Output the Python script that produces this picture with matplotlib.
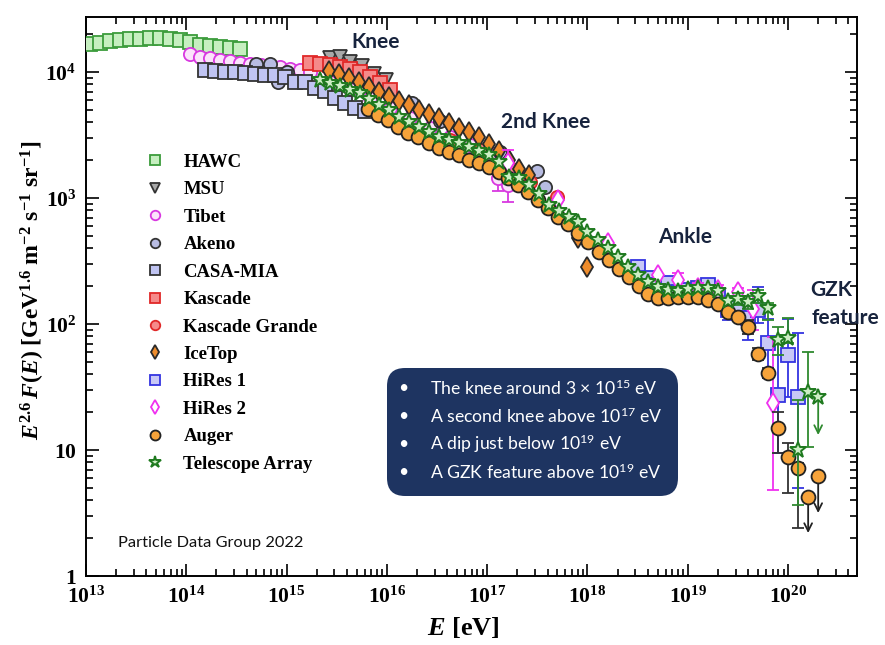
import numpy as np
import matplotlib
matplotlib.use('Agg')
import matplotlib.pyplot as plt
from matplotlib.ticker import LogLocator, NullFormatter, FixedLocator, FixedFormatter
from matplotlib.patches import FancyBboxPatch
from matplotlib.transforms import IdentityTransform

plt.rcParams['mathtext.fontset'] = 'custom'
plt.rcParams['mathtext.rm'] = 'Liberation Serif:bold'
plt.rcParams['mathtext.it'] = 'Liberation Serif:italic:bold'
plt.rcParams['mathtext.bf'] = 'Liberation Serif:bold'
plt.rcParams['mathtext.sf'] = 'Lato'

# ---------------- data (log10 E [eV], log10 E^2.6 F) ----------------
hawc_logE = [13.04, 13.14, 13.24, 13.34, 13.44, 13.54, 13.64, 13.74, 13.84, 13.94, 14.04, 14.14, 14.24, 14.34, 14.44, 14.54]
hawc_logF = [4.222, 4.232, 4.243, 4.254, 4.260, 4.264, 4.267, 4.267, 4.264, 4.254, 4.236, 4.214, 4.209, 4.201, 4.193, 4.180]

msu_logE = [15.43, 15.53, 15.63, 15.75, 15.87, 15.99]
msu_logF = [4.111, 4.119, 4.079, 4.048, 3.984, 3.937]

tibet_logE = [14.04, 14.14, 14.24, 14.34, 14.44, 14.54, 14.64, 14.74, 14.83, 14.93, 15.03, 15.13, 15.23,
              15.43, 15.63, 15.83, 16.03, 16.23, 16.43, 16.63, 16.83, 17.03, 17.11, 17.21]
tibet_logF = [4.143, 4.123, 4.111, 4.099, 4.087, 4.075, 4.063, 4.056, 4.048, 4.040, 4.028, 4.016, 4.004,
              3.921, 3.865, 3.794, 3.714, 3.635, 3.556, 3.484, 3.421, 3.357, 3.159, 3.103]
tibet_err_logE = [17.11, 17.21]
tibet_err_logF = [3.159, 3.103]
tibet_err_lo = [3.056, 2.968]
tibet_err_hi = [3.25, 3.20]

akeno_logE = [14.69, 14.83, 14.91, 15.00, 16.25, 16.53, 17.13, 17.50, 17.58]
akeno_logF = [4.063, 4.063, 3.921, 4.000, 3.754, 3.611, 3.365, 3.214, 3.087]

casa_logE = [14.19, 14.29, 14.39, 14.49, 14.59, 14.68, 14.78, 14.88, 14.98, 15.08, 15.18, 15.28, 15.38, 15.48, 15.58, 15.68, 15.78]
casa_logF = [4.020, 4.008, 4.002, 3.998, 3.996, 3.986, 3.978, 3.978, 3.963, 3.923, 3.921, 3.873, 3.849, 3.798, 3.752, 3.712, 3.694]

kascade_logE = [15.23, 15.33, 15.43, 15.53, 15.63, 15.73, 15.83, 15.93, 16.03]
kascade_logF = [4.071, 4.067, 4.056, 4.040, 4.024, 4.000, 3.960, 3.913, 3.857]

kg_logE = [16.63, 16.93, 17.23, 17.43, 17.70]
kg_logF = [3.460, 3.381, 3.238, 3.127, 3.008]

icetop_logE = [15.42, 15.52, 15.62, 15.72, 15.82, 15.92, 16.02, 16.12, 16.22, 16.32, 16.42, 16.52, 16.62, 16.72,
               16.82, 16.92, 17.02, 17.12, 17.22, 17.32, 17.42, 17.91, 18.00]
icetop_logF = [4.008, 3.984, 3.952, 3.921, 3.881, 3.841, 3.802, 3.770, 3.738, 3.698, 3.667, 3.635, 3.595, 3.556,
               3.524, 3.484, 3.429, 3.373, 3.302, 3.230, 3.183, 2.683, 2.452]

hires1_logE = [18.50, 18.60, 18.70, 18.80, 18.90, 19.00, 19.10, 19.20, 19.30, 19.40, 19.50, 19.60, 19.70, 19.80, 19.90, 20.00, 20.10]
hires1_logF = [2.452, 2.365, 2.310, 2.325, 2.254, 2.270, 2.286, 2.310, 2.214, 2.111, 2.127, 2.048, 2.111, 1.849, 1.437, 1.754, 1.421]
hires1_err_logE = [19.40, 19.50, 19.60, 19.70, 19.80, 19.90, 20.00, 20.10]
hires1_err_logF = [2.111, 2.127, 2.048, 2.111, 1.849, 1.437, 1.754, 1.421]
hires1_err_lo = [2.032, 2.048, 1.873, 2.008, 1.571, 0.976, 1.421, 0.698]
hires1_err_hi = [2.190, 2.190, 2.087, 2.294, 2.040, 1.889, 2.040, 1.929]

hires2_logE = [17.21, 17.71, 18.20, 18.70, 18.90, 19.10, 19.30, 19.50, 19.65, 19.85]
hires2_logF = [3.278, 2.984, 2.643, 2.389, 2.349, 2.286, 2.270, 2.254, 2.119, 1.373]
hires2_err_logE = [17.21, 18.90, 19.10, 19.30, 19.50, 19.65, 19.85]
hires2_err_logF = [3.278, 2.349, 2.286, 2.270, 2.254, 2.119, 1.373]
hires2_err_lo = [3.200, 2.290, 2.250, 2.220, 2.200, 1.952, 0.683]
hires2_err_hi = [3.380, 2.405, 2.325, 2.310, 2.286, 2.270, 1.897]

auger_logE = [15.81, 15.91, 16.01, 16.11, 16.21, 16.31, 16.42, 16.52, 16.62, 16.72, 16.82, 16.92, 17.02, 17.12,
              17.21, 17.31, 17.41, 17.51, 17.61, 17.71, 17.81, 17.91, 18.01, 18.11, 18.21, 18.31, 18.41, 18.51,
              18.60, 18.70, 18.80, 18.90, 19.00, 19.10, 19.20, 19.30, 19.40, 19.50, 19.60, 19.70, 19.80, 19.90,
              20.00, 20.10, 20.20, 20.30]
auger_logF = [3.706, 3.659, 3.619, 3.563, 3.516, 3.484, 3.437, 3.397, 3.365, 3.341, 3.302, 3.278, 3.246, 3.206,
              3.159, 3.103, 3.048, 2.984, 2.921, 2.849, 2.794, 2.722, 2.651, 2.571, 2.508, 2.437, 2.373, 2.302,
              2.238, 2.206, 2.206, 2.214, 2.214, 2.214, 2.190, 2.159, 2.095, 2.056, 1.976, 1.762, 1.611, 1.175,
              0.944, 0.857, 0.627, 0.794]
auger_err_logE = [19.60, 19.70, 19.80, 19.90, 20.00, 20.10]
auger_err_logF = [1.976, 1.762, 1.611, 1.175, 0.944, 0.857]
auger_err_lo = [1.921, 1.714, 1.571, 0.976, 0.659, 0.381]
auger_err_hi = [2.032, 1.810, 1.651, 1.302, 1.056, 0.900]
auger_ul_logE = [20.20, 20.30]
auger_ul_logF = [0.627, 0.794]
auger_ul_end = [0.341, 0.500]

ta_logE = [15.33, 15.43, 15.53, 15.63, 15.73, 15.82, 15.92, 16.02, 16.12, 16.22, 16.32, 16.42, 16.52, 16.62,
           16.72, 16.82, 16.92, 17.02, 17.12, 17.22, 17.32, 17.42, 17.52, 17.62, 17.72, 17.82, 17.91, 18.00,
           18.10, 18.20, 18.30, 18.40, 18.50, 18.60, 18.70, 18.80, 18.90, 19.00, 19.10, 19.20, 19.30, 19.40,
           19.50, 19.60, 19.70, 19.80, 19.90, 20.00, 20.10, 20.20, 20.30]
ta_logF = [3.937, 3.913, 3.889, 3.857, 3.833, 3.786, 3.738, 3.698, 3.643, 3.603, 3.563, 3.524, 3.484, 3.460,
           3.437, 3.405, 3.373, 3.341, 3.286, 3.167, 3.159, 3.103, 3.032, 2.944, 2.897, 2.849, 2.810, 2.730,
           2.667, 2.603, 2.532, 2.452, 2.389, 2.333, 2.294, 2.270, 2.262, 2.278, 2.286, 2.286, 2.262, 2.183,
           2.198, 2.175, 2.222, 2.127, 1.873, 1.889, 1.000, 1.460, 1.421]
ta_err_logE = [19.50, 19.60, 19.70, 19.80, 19.90, 20.00, 20.10, 20.20]
ta_err_logF = [2.198, 2.175, 2.222, 2.127, 1.873, 1.889, 1.000, 1.460]
ta_err_lo = [2.151, 2.119, 2.167, 2.032, 1.754, 1.849, 0.563, 1.024]
ta_err_hi = [2.246, 2.222, 2.270, 2.167, 1.976, 2.048, 1.397, 1.778]
ta_ul_logE = [20.30]
ta_ul_logF = [1.421]
ta_ul_end = [1.119]

x_tick_values = [1e13, 1e14, 1e15, 1e16, 1e17, 1e18, 1e19, 1e20]
x_tick_labels = [r'$10^{13}$', r'$10^{14}$', r'$10^{15}$', r'$10^{16}$', r'$10^{17}$', r'$10^{18}$', r'$10^{19}$', r'$10^{20}$']
y_tick_values = [1, 10, 100, 1000, 10000]
y_tick_labels = [r'$1$', r'$10$', r'$10^{2}$', r'$10^{3}$', r'$10^{4}$']

box_lines = [r'The knee around 3 × $\mathsf{10^{15}}$ eV',
             r'A second knee above $\mathsf{10^{17}}$ eV',
             r'A dip just below $\mathsf{10^{19}}$ eV',
             r'A GZK feature above $\mathsf{10^{19}}$ eV']

# ---------------- figure ----------------
W, H = 885, 645
fig = plt.figure(figsize=(W / 100, H / 100), dpi=100)
ax = fig.add_axes([86 / W, 1 - 576 / H, 771 / W, 559 / H])
ax.set_xscale('log')
ax.set_yscale('log')
ax.set_xlim(1e13, 10 ** 20.687)
ax.set_ylim(1, 10 ** 4.437)

def p(a):
    return 10 ** np.asarray(a, dtype=float)

def errs(logE, logF, lo, hi, color, z):
    F = p(logF)
    ax.errorbar(p(logE), F, yerr=[F - p(lo), p(hi) - F], fmt='none', ecolor=color,
                elinewidth=1.3, capsize=4, capthick=1.3, zorder=z)

def uplim(logE, logF, end, color, z):
    for e, f, t in zip(logE, logF, end):
        ax.annotate('', xy=(10 ** e, 10 ** t), xytext=(10 ** e, 10 ** f),
                    arrowprops=dict(arrowstyle='->', color=color, lw=1.3, mutation_scale=14,
                                    shrinkA=0, shrinkB=0), zorder=z)

handles = []
def series(logE, logF, label, marker, face, edge, z, size=9.5, lw=1.3):
    h, = ax.plot(p(logE), p(logF), linestyle='none', marker=marker, markersize=size,
                 markerfacecolor=face, markeredgecolor=edge, markeredgewidth=lw, zorder=z, label=label)
    handles.append(h)

series(hawc_logE, hawc_logF, 'HAWC', 's', '#c6efc0', '#3c9c3c', 3, size=10)
series(msu_logE, msu_logF, 'MSU', 'v', '#a8a8a8', '#333333', 3)
errs(tibet_err_logE, tibet_err_logF, tibet_err_lo, tibet_err_hi, '#d838e0', 3)
series(tibet_logE, tibet_logF, 'Tibet', 'o', '#fbe3fb', '#d838e0', 3)
series(akeno_logE, akeno_logF, 'Akeno', 'o', '#b8bce2', '#333333', 4)
series(casa_logE, casa_logF, 'CASA-MIA', 's', '#c0c4f2', '#333333', 4)
series(kascade_logE, kascade_logF, 'Kascade', 's', '#f58a8a', '#e02828', 4)
series(kg_logE, kg_logF, 'Kascade Grande', 'o', '#f58a8a', '#e02828', 4)
series(icetop_logE, icetop_logF, 'IceTop', 'd', '#ee8c2c', '#2a2a2a', 5, size=10)
errs(hires1_err_logE, hires1_err_logF, hires1_err_lo, hires1_err_hi, '#3434e0', 5)
series(hires1_logE, hires1_logF, 'HiRes 1', 's', '#c8c8f6', '#3434e0', 5)
errs(hires2_err_logE, hires2_err_logF, hires2_err_lo, hires2_err_hi, '#f030f0', 5)
series(hires2_logE, hires2_logF, 'HiRes 2', 'd', '#ffffff', '#f030f0', 5, size=10)
errs(auger_err_logE, auger_err_logF, auger_err_lo, auger_err_hi, '#333333', 6)
uplim(auger_ul_logE, auger_ul_logF, auger_ul_end, '#222222', 6)
series(auger_logE, auger_logF, 'Auger', 'o', '#f6a33a', '#222222', 6, size=10)
errs(ta_err_logE, ta_err_logF, ta_err_lo, ta_err_hi, '#2f8a2f', 7)
uplim(ta_ul_logE, ta_ul_logF, ta_ul_end, '#2f8a2f', 7)
series(ta_logE, ta_logF, 'Telescope Array', '*', '#cdeec4', '#1f7a1f', 7, size=12, lw=1.4)

# ---------------- axes styling ----------------
for s in ax.spines.values():
    s.set_linewidth(1.4)
ax.xaxis.set_major_locator(FixedLocator(x_tick_values))
ax.xaxis.set_major_formatter(FixedFormatter(x_tick_labels))
ax.yaxis.set_major_locator(FixedLocator(y_tick_values))
ax.yaxis.set_major_formatter(FixedFormatter(y_tick_labels))
ax.xaxis.set_minor_locator(LogLocator(base=10, subs=np.arange(2, 10), numticks=20))
ax.yaxis.set_minor_locator(LogLocator(base=10, subs=np.arange(2, 10), numticks=20))
ax.xaxis.set_minor_formatter(NullFormatter())
ax.yaxis.set_minor_formatter(NullFormatter())
ax.tick_params(which='both', direction='in', top=True, right=True, width=1.2)
ax.tick_params(which='major', length=9, labelsize=15.5, pad=7)
ax.tick_params(which='minor', length=5)

ax.set_xlabel(r'$E$ [eV]', fontsize=19, fontfamily='Liberation Serif', fontweight='bold')
ax.set_ylabel(r'$E^{2.6}\,F(E)$ [GeV$^{1.6}$ m$^{-2}$ s$^{-1}$ sr$^{-1}$]', fontsize=17,
              fontfamily='Liberation Serif', fontweight='bold')
ax.xaxis.set_label_coords(0.49, -0.07)
ax.yaxis.set_label_coords(-0.051, 0.512)

leg = ax.legend(handles=handles, loc='upper left', bbox_to_anchor=(0.0656, 0.772), frameon=False,
                prop={'family': 'Liberation Serif', 'weight': 'bold', 'size': 13.5},
                handlelength=1.0, handletextpad=1.0, labelspacing=0.55, borderpad=0,
                markerscale=0.72, numpoints=1)

# ---------------- annotations ----------------
navy = '#17233d'
ann = dict(fontfamily='Lato', fontweight='bold', fontsize=15, color=navy, ha='center', va='center')
def figtxt(x, y, s, **kw):
    fig.text(x / W, 1 - y / H, s, **kw)

figtxt(376, 42, 'Knee', **ann)
figtxt(546, 122, '2nd Knee', **ann)
figtxt(685, 237, 'Ankle', **ann)
figtxt(831, 290, 'GZK', **ann)
figtxt(845, 318, 'feature', **ann)

figtxt(118, 543, 'Particle Data Group 2022', fontfamily='Lato', fontsize=11.8, color='#111111',
       ha='left', va='center')

box = FancyBboxPatch((387, H - 496), 291, 128, boxstyle='round,pad=0,rounding_size=18',
                     transform=IdentityTransform(), facecolor='#1e3461', edgecolor='none', zorder=10)
fig.patches.append(box)
for i, line in enumerate(box_lines):
    y = 388 + i * 28
    figtxt(403, y, '•', fontfamily='Lato', fontsize=12.5, color='white', ha='center', va='center', zorder=11)
    figtxt(430, y, line, fontfamily='Lato', fontsize=12.7, color='white', ha='left', va='center', zorder=11)

fig.savefig('out.png', dpi=100)
